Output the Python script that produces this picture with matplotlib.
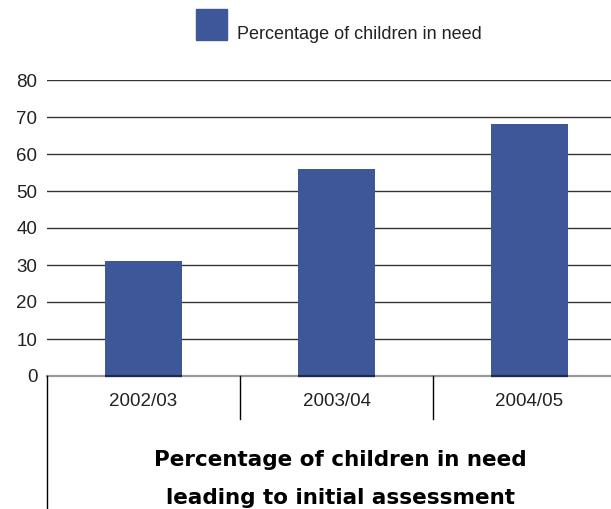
import matplotlib
matplotlib.use("Agg")
import matplotlib.pyplot as plt
from matplotlib.patches import Rectangle
from matplotlib.lines import Line2D

categories = ["2002/03", "2003/04", "2004/05"]
values = [31, 56, 68]
yticks = [0, 10, 20, 30, 40, 50, 60, 70, 80]
series_name = "Percentage of children in need"
title_lines = ["Percentage of children in need", "leading to initial assessment"]

W, H = 611, 509
plt.rcParams["font.family"] = ["Liberation Sans", "DejaVu Sans"]
fig = plt.figure(figsize=(W / 100, H / 100), dpi=100)

# plot area in pixels: left 47, top 80, bottom 376, category width 193
left, top, bottom, cat_w = 47, 80, 376, 193
ax = fig.add_axes([left / W, (H - bottom) / H, 3 * cat_w / W, (bottom - top) / H])

bar_color = "#3d5799"
ax.bar(range(len(categories)), values, width=0.395, color=bar_color, zorder=3)
ax.set_xlim(-0.5, len(categories) - 0.5)
ax.set_ylim(0, 80)

for v in yticks[1:]:
    ax.axhline(v, color="#333333", lw=1.0, zorder=2)
# baseline: grey across the plot, darker where it meets the bars
ax.axhline(0, color="#999999", lw=1.6, zorder=2, clip_on=False)
ax.hlines([0] * len(categories), [i - 0.1975 for i in range(len(categories))],
          [i + 0.1975 for i in range(len(categories))], color="#1a2a55",
          lw=1.6, zorder=4, clip_on=False)

for s in ax.spines.values():
    s.set_visible(False)
ax.set_yticks(yticks)
ax.set_yticklabels([str(v) for v in yticks], fontsize=13.5, color="#222222")
ax.tick_params(axis="y", length=0, pad=7)
ax.set_xticks([])

px = lambda y: (H - y) / H

# category labels and separators below the axis
for i, c in enumerate(categories):
    x = (left + (i + 0.5) * cat_w) / W
    fig.text(x, px(406), c, ha="center", va="baseline", fontsize=13.5,
             color="#222222")
for i in range(1, len(categories)):
    x = (left + i * cat_w) / W
    fig.add_artist(Line2D([x, x], [px(376), px(419)], color="black", lw=1.0))
fig.add_artist(Line2D([left / W, left / W], [px(376), 0], color="black", lw=1.0))

# legend
fig.add_artist(Rectangle((196 / W, px(40)), 31 / W, 31 / H, color=bar_color,
                         transform=fig.transFigure))
fig.text(237 / W, px(39), series_name, ha="left", va="baseline", fontsize=13,
         color="#222222")

# title beneath the chart
fig.text(340 / W, px(466), title_lines[0], ha="center", va="baseline",
         fontsize=15.5, fontweight="bold", color="black",
         family=["DejaVu Sans"])
fig.text(340 / W, px(504), title_lines[1], ha="center", va="baseline",
         fontsize=15.5, fontweight="bold", color="black",
         family=["DejaVu Sans"])

fig.savefig("out.png", dpi=100)
